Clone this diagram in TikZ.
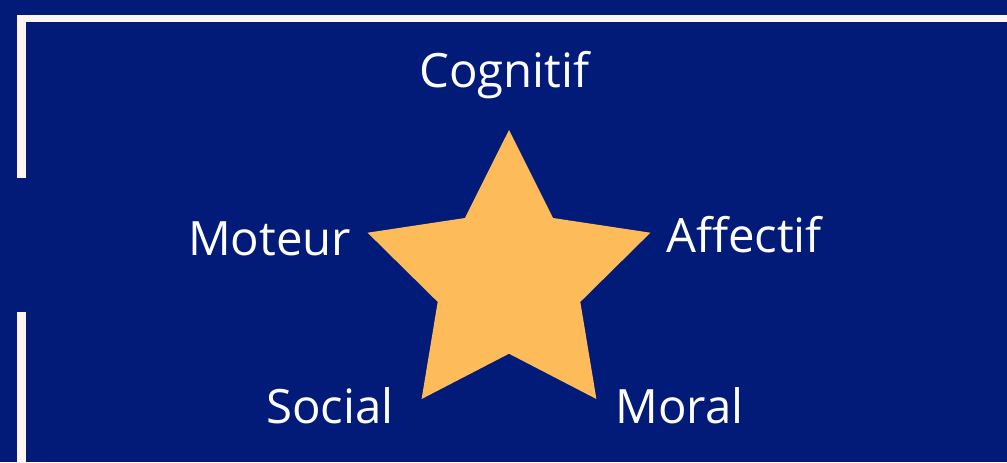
\documentclass[tikz,border=0pt]{standalone}
\usepackage{fontspec}
\setmainfont{Open Sans}
\definecolor{bgblue}{HTML}{021B79}
\definecolor{stargold}{HTML}{FDBB5A}
\definecolor{framewhite}{HTML}{FDF6F0}
\begin{document}
\begin{tikzpicture}[x=0.75pt,y=-0.75pt,
    dimtext/.style={text=white, anchor=base, inner sep=0pt, font=\fontsize{35.5}{42}\selectfont}]
        % Background and frame
        \fill[bgblue] (0,0) rectangle (1007,462);
        \useasboundingbox (0,0) rectangle (1007,462);
        \fill[framewhite] (17,15) rectangle (1007,22);
        \fill[framewhite] (17,15) rectangle (26,177.7);
        \fill[framewhite] (17,312.3) rectangle (26,462);
        % Draw star
        \fill[stargold] (509,130) -- (553.1,218) -- (650.4,232.7) -- (580.3,301.9) -- (596.4,399)
            -- (509,353.7) -- (421.6,399) -- (437.7,301.9) -- (367.6,232.7) -- (464.9,218) -- cycle;
        % Labels
        \node[dimtext] (cognitif) at (504.5,87) {Cognitif};
        \node[dimtext] (moteur) at (269.5,255) {Moteur};
        \node[dimtext] (affectif) at (744,252) {Affectif};
        \node[dimtext] (social) at (330,423) {Social};
        \node[dimtext] (moral) at (679.5,423) {Moral};
      \end{tikzpicture}
\end{document}
